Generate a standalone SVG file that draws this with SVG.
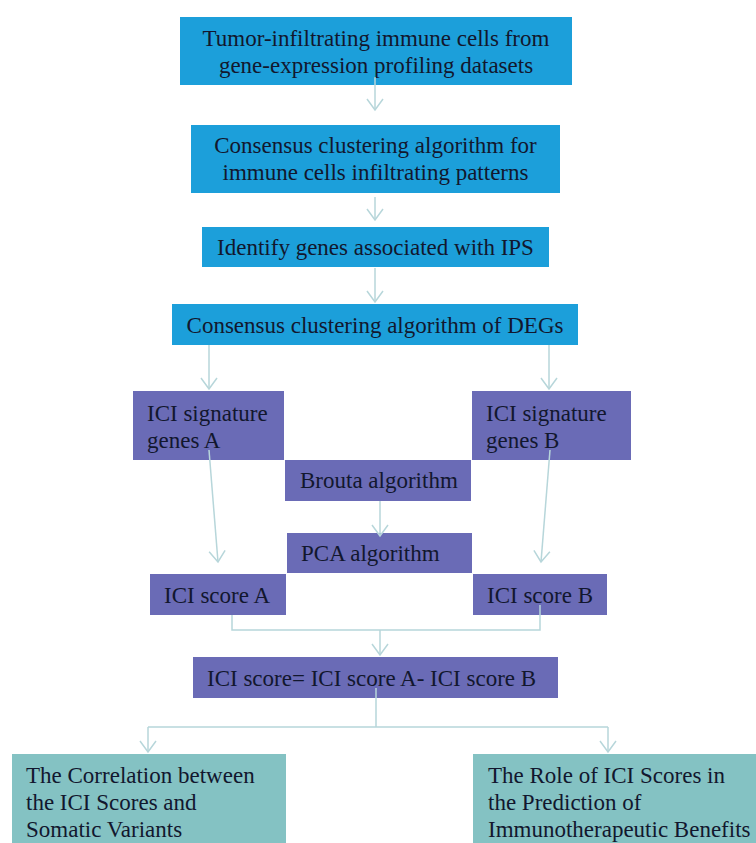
<svg xmlns="http://www.w3.org/2000/svg" width="756" height="843" viewBox="0 0 756 843">
<defs>
<marker id="ah" markerWidth="24" markerHeight="24" viewBox="-12 -12 24 24" refX="0" refY="0" markerUnits="userSpaceOnUse" orient="auto">
<path d="M-11,-8 L0,0 L-11,8" fill="none" stroke="#b7d6da" stroke-width="1.5"/>
</marker>
</defs>
<style>
.blue{fill:#1c9fda}
.purple{fill:#6a6bb6}
.teal{fill:#84c2c3}
.t{font-family:'Liberation Serif','Times New Roman',serif;font-size:23px;fill:#12172e}
.c{text-anchor:middle}
.conn{fill:none;stroke:#b7d6da;stroke-width:1.5}
.arr{marker-end:url(#ah)}
</style>
<rect width="756" height="843" fill="#ffffff"/>
<g id="n1"><rect class="blue" x="180" y="17" width="392" height="68"/>
<text class="t c" x="376" y="46">Tumor-infiltrating immune cells from</text>
<text class="t c" x="376" y="73">gene-expression profiling datasets</text></g>
<g id="n2"><rect class="blue" x="191" y="125" width="369" height="68"/>
<text class="t c" x="375.5" y="153">Consensus clustering algorithm for</text>
<text class="t c" x="375.5" y="180">immune cells infiltrating patterns</text></g>
<g id="n3"><rect class="blue" x="202" y="227" width="347" height="40"/>
<text class="t c" x="375.5" y="255">Identify genes associated with IPS</text></g>
<g id="n4"><rect class="blue" x="172" y="304" width="406" height="41"/>
<text class="t c" x="375" y="333">Consensus clustering algorithm of DEGs</text></g>
<g id="n5"><rect class="purple" x="133" y="391" width="151" height="69"/>
<text class="t" x="147" y="421">ICI signature</text>
<text class="t" x="147" y="448">genes A</text></g>
<g id="n6"><rect class="purple" x="472" y="391" width="159" height="69"/>
<text class="t" x="486" y="421">ICI signature</text>
<text class="t" x="486" y="448">genes B</text></g>
<g id="n7"><rect class="purple" x="285" y="460" width="186" height="41"/>
<text class="t" x="300" y="488">Brouta algorithm</text></g>
<g id="n8"><rect class="purple" x="287" y="533" width="185" height="40"/>
<text class="t" x="301" y="561">PCA algorithm</text></g>
<g id="n9"><rect class="purple" x="150" y="574" width="136" height="41"/>
<text class="t" x="164" y="603">ICI score A</text></g>
<g id="n10"><rect class="purple" x="473" y="574" width="134" height="41"/>
<text class="t" x="487" y="603">ICI score B</text></g>
<g id="n11"><rect class="purple" x="193" y="657" width="365" height="41"/>
<text class="t" x="207" y="686">ICI score= ICI score A- ICI score B</text></g>
<g id="n12"><rect class="teal" x="12" y="754" width="274" height="95"/>
<text class="t" x="26" y="783">The Correlation between</text>
<text class="t" x="26" y="810">the ICI Scores and</text>
<text class="t" x="26" y="837">Somatic Variants</text></g>
<g id="n13"><rect class="teal" x="473" y="754" width="290" height="95"/>
<text class="t" x="488" y="783">The Role of ICI Scores in</text>
<text class="t" x="488" y="810">the Prediction of</text>
<text class="t" x="488" y="837">Immunotherapeutic Benefits</text></g>
<g id="connectors">
<path class="conn arr" d="M375,77 L375,110"/>
<path class="conn arr" d="M375,197 L375,220"/>
<path class="conn arr" d="M375,268 L375,302"/>
<path class="conn arr" d="M209,345 L209,389"/>
<path class="conn arr" d="M549,345 L549,389"/>
<path class="conn arr" d="M209,450 L218,562"/>
<path class="conn arr" d="M550,450 L541,562"/>
<path class="conn arr" d="M380,501 L380,536"/>
<path class="conn" d="M232,615 L232,630 L540,630 L540,605"/>
<path class="conn arr" d="M380,630 L380,655"/>
<path class="conn" d="M376,688 L376,727 M148,727 L608,727"/>
<path class="conn arr" d="M148,727 L148,752"/>
<path class="conn arr" d="M608,727 L608,752"/>
</g>
</svg>
